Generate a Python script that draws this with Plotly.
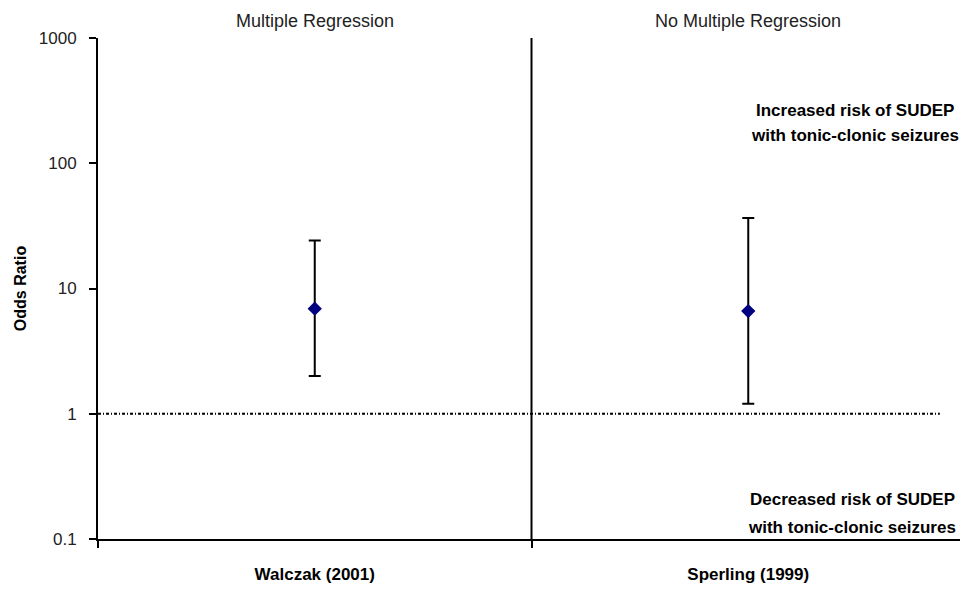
import plotly.graph_objects as go

studies = ["Walczak (2001)", "Sperling (1999)"]
odds_ratio = [6.9, 6.6]
ci_lower = [2.0, 1.2]
ci_upper = [24.2, 36.5]
panel_titles = ["Multiple Regression", "No Multiple Regression"]
y_ticks = [0.1, 1, 10, 100, 1000]
y_ticktext = ["0.1", "1", "10", "100", "1000"]
increased_lines = ["Increased risk of SUDEP", "with tonic-clonic seizures"]
decreased_lines = ["Decreased risk of SUDEP", "with tonic-clonic seizures"]

FONT = "Liberation Sans Narrow, Arial Narrow, Liberation Sans, Arial, sans-serif"

# the page body adds an 8px offset; layout numbers below are page pixels
OFF = 8
W, H = 968, 592
PL, PR, PT, PB = 98, 965, 38, 539          # plot area in page pixels
L, T = PL - OFF, PT - OFF
R = W - (PR - OFF)
B = H - (PB - OFF)
pw, ph = PR - PL, PB - PT

def px(p):
    return (p - PL) / pw

def py(p):
    return (PB - p) / ph

fig = go.Figure()
fig.add_trace(go.Scatter(
    x=studies, y=odds_ratio, mode="markers",
    marker=dict(symbol="diamond", size=11, color="#000080"),
    error_y=dict(type="data", symmetric=False,
                 array=[u - o for u, o in zip(ci_upper, odds_ratio)],
                 arrayminus=[o - l for o, l in zip(odds_ratio, ci_lower)],
                 color="black", thickness=2, width=6),
    showlegend=False,
))

# reference line at OR = 1
fig.add_shape(type="line", xref="paper", x0=0, x1=0.971, yref="y", y0=1, y1=1,
              line=dict(color="black", width=2, dash="3px,2px,1px,2px"))
# divider between panels
fig.add_shape(type="line", xref="x", x0=0.5, x1=0.5, yref="paper", y0=0, y1=1,
              line=dict(color="black", width=2))

for i, t in enumerate(panel_titles):
    fig.add_annotation(x=i, xref="x", y=py(21), yref="paper", text=t,
                       showarrow=False, xanchor="center", yanchor="middle",
                       font=dict(size=18, color="#222", family=FONT))

for txt, ypix in zip(increased_lines, [110, 135]):
    fig.add_annotation(x=px(855), xref="paper", y=py(ypix), yref="paper",
                       text="<b>" + txt + "</b>", showarrow=False,
                       xanchor="center", yanchor="middle",
                       font=dict(size=17, color="black", family=FONT))
for txt, ypix in zip(decreased_lines, [500, 527]):
    fig.add_annotation(x=px(852), xref="paper", y=py(ypix), yref="paper",
                       text="<b>" + txt + "</b>", showarrow=False,
                       xanchor="center", yanchor="middle",
                       font=dict(size=17, color="black", family=FONT))

fig.update_layout(
    width=W, height=H,
    margin=dict(l=L, r=R, t=T, b=B),
    paper_bgcolor="white", plot_bgcolor="white",
    font=dict(family=FONT, size=17, color="#222"),
    xaxis=dict(type="category", range=[-0.5, 1.5], tickson="boundaries",
               ticks="outside", ticklen=7, tickwidth=2, tickcolor="black",
               showline=True, linecolor="black", linewidth=2, showgrid=False,
               tickvals=studies, ticktext=["<b>" + s + "</b>" for s in studies],
               tickfont=dict(size=17, color="black", family=FONT),
               ticklabelstandoff=19),
    yaxis=dict(type="log", range=[-1, 3], tickvals=y_ticks, ticktext=y_ticktext,
               ticks="outside", ticklen=7, tickwidth=2, tickcolor="black",
               showline=True, linecolor="black", linewidth=2, showgrid=False,
               zeroline=False, ticklabelstandoff=9,
               tickfont=dict(size=17, color="#222", family=FONT),
               title=dict(text="<b>Odds Ratio</b>", standoff=8,
                          font=dict(size=16, color="black", family=FONT))),
)

fig.write_html("out.html")
